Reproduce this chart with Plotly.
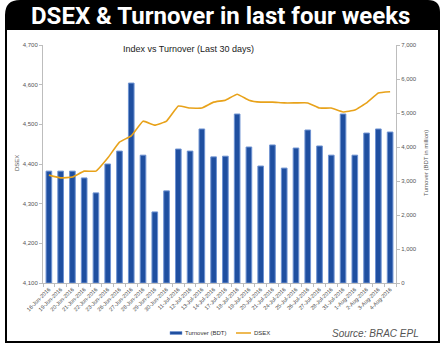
import plotly.graph_objects as go

# Trading days shown on the category axis
dates = [
    "16-Jun-2016", "19-Jun-2016", "20-Jun-2016", "21-Jun-2016", "22-Jun-2016",
    "23-Jun-2016", "26-Jun-2016", "27-Jun-2016", "28-Jun-2016", "29-Jun-2016",
    "30-Jun-2016", "11-Jul-2016", "12-Jul-2016", "13-Jul-2016", "14-Jul-2016",
    "17-Jul-2016", "18-Jul-2016", "19-Jul-2016", "20-Jul-2016", "21-Jul-2016",
    "24-Jul-2016", "25-Jul-2016", "26-Jul-2016", "27-Jul-2016", "28-Jul-2016",
    "31-Jul-2016", "1-Aug-2016", "2-Aug-2016", "3-Aug-2016", "4-Aug-2016",
]

# Daily turnover, BDT in million
turnover = [
    3290, 3290, 3290, 3090, 2650, 3500, 3880, 5880, 3760, 2090,
    2710, 3940, 3880, 4530, 3710, 3730, 4970, 4000, 3440, 4060,
    3380, 3970, 4500, 4030, 3760, 4970, 3760, 4410, 4530, 4440,
]

# DSEX closing index
dsex = [
    4372, 4365, 4367, 4382, 4382, 4415, 4455, 4471, 4508, 4498,
    4508, 4546, 4541, 4541, 4556, 4561, 4576, 4561, 4556, 4556,
    4554, 4554, 4554, 4541, 4541, 4531, 4536, 4554, 4579, 4582,
]

dsex_ticks = [4100, 4200, 4300, 4400, 4500, 4600, 4700]
turnover_ticks = [0, 1000, 2000, 3000, 4000, 5000, 6000, 7000]

BAR_COLOR = "#1f4fa0"
BAR_EDGE = "#6f93d2"
LINE_COLOR = "#e8a21a"

W, H = 441, 348
L, R, T, B = 43, 396, 45, 283


def px(x):
    return (x - L) / (R - L)


def py(y):
    return (B - y) / (B - T)


FONT = "Liberation Sans, Arial, sans-serif"
TICK_COLOR = "#555555"
AXIS_COLOR = "#bdbdbd"

fig = go.Figure()

fig.add_trace(go.Bar(
    x=dates, y=turnover, name="Turnover (BDT)",
    marker=dict(color=BAR_COLOR, line=dict(color=BAR_EDGE, width=1)),
    width=0.48, yaxis="y",
))

fig.add_trace(go.Scatter(
    x=dates, y=dsex, name="DSEX", mode="lines",
    line=dict(color=LINE_COLOR, width=1.6, shape="spline", smoothing=0.3),
    yaxis="y2",
))

# header band with rounded top corners and the outer frame
header = (
    f"M {px(5)} {py(30)} L {px(5)} {py(15)} Q {px(5)} {py(0)} {px(20)} {py(0)} "
    f"L {px(428)} {py(0)} Q {px(440)} {py(0)} {px(440)} {py(12)} "
    f"L {px(440)} {py(30)} Z"
)
shapes = [
    dict(type="path", path=header, xref="paper", yref="paper",
         fillcolor="black", line=dict(width=0), layer="above"),
    dict(type="line", xref="paper", yref="paper", x0=px(6), x1=px(6),
         y0=py(29), y1=py(342), line=dict(color="black", width=2)),
    dict(type="line", xref="paper", yref="paper", x0=px(439), x1=px(439),
         y0=py(29), y1=py(342), line=dict(color="black", width=2)),
    dict(type="line", xref="paper", yref="paper", x0=px(5), x1=px(440),
         y0=py(342), y1=py(342), line=dict(color="black", width=2)),
    # legend keys
    dict(type="rect", xref="paper", yref="paper", x0=px(170), x1=px(182),
         y0=py(334.5), y1=py(331.5), fillcolor=BAR_COLOR,
         line=dict(color=BAR_EDGE, width=0.5)),
    dict(type="line", xref="paper", yref="paper", x0=px(236), x1=px(251),
         y0=py(333), y1=py(333), line=dict(color=LINE_COLOR, width=1.5)),
]


def label(text, x, y, size, color, xanchor="center", angle=0, family=FONT):
    return dict(text=text, x=px(x), y=py(y), xref="paper", yref="paper",
                showarrow=False, xanchor=xanchor, yanchor="middle",
                textangle=angle, font=dict(family=family, size=size, color=color))


annotations = [
    label("<b>DSEX & Turnover in last four weeks</b>", 220.5, 16, 24, "white",
          family="Roboto, Liberation Sans, sans-serif"),
    label("Index vs Turnover (Last 30 days)", 188, 49, 9, "#222222"),
    label("DSEX", 17, 163, 6, TICK_COLOR, angle=-90),
    label("Turnover (BDT in million)", 426, 163, 6, TICK_COLOR, angle=-90),
    label("<i>Source: BRAC EPL</i>", 375, 333, 10, "#555555"),
    label("Turnover (BDT)", 183, 333, 6, "#333333", xanchor="left"),
    label("DSEX", 252, 333, 6, "#333333", xanchor="left"),
]

fig.update_layout(
    width=W, height=H,
    margin=dict(l=L, r=W - R, t=T, b=H - B),
    paper_bgcolor="white", plot_bgcolor="white",
    showlegend=False,
    shapes=shapes,
    annotations=annotations,
    xaxis=dict(
        type="category", tickangle=-45, showgrid=False,
        showline=True, linecolor=AXIS_COLOR, linewidth=1,
        ticks="outside", ticklen=3, tickcolor=AXIS_COLOR, tickson="boundaries",
        tickfont=dict(family=FONT, size=5.5, color="#444444"),
    ),
    yaxis=dict(
        side="right", range=[0, 7000], tickvals=turnover_ticks,
        tickformat=",", showgrid=False, zeroline=False,
        showline=True, linecolor=AXIS_COLOR, linewidth=1,
        ticks="outside", ticklen=3, tickcolor=AXIS_COLOR,
        tickfont=dict(family=FONT, size=6, color=TICK_COLOR),
    ),
    yaxis2=dict(
        side="left", overlaying="y", range=[4100, 4700], tickvals=dsex_ticks,
        tickformat=",", showgrid=False, zeroline=False,
        showline=True, linecolor=AXIS_COLOR, linewidth=1,
        ticks="outside", ticklen=3, tickcolor=AXIS_COLOR,
        tickfont=dict(family=FONT, size=6, color=TICK_COLOR),
    ),
)

fig.write_html("out.html")
